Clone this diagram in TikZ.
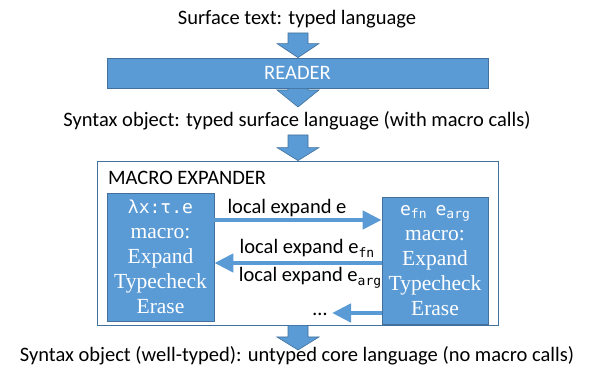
\documentclass[tikz,border=0pt]{standalone}
\usepackage{fontspec}
\setmainfont{Carlito}
\newfontfamily\serifb{Liberation Serif}
\newfontfamily\monob{DejaVu Sans Mono}
\usetikzlibrary{arrows.meta,calc}
\definecolor{blu}{HTML}{5B9BD5}
\definecolor{blud}{HTML}{41719C}
\newcommand\blockarrow[3]{%
  \filldraw[fill=blu,draw=blud,line width=0.6pt] let \p1=(#1), \p2=(#2) in
    (\x1-10pt,\y1) -- (\x1+10pt,\y1) -- (\x1+10pt,\y2+#3) -- (\x1+21pt,\y2+#3)
    -- (\x1,\y2) -- (\x1-21pt,\y2+#3) -- (\x1-10pt,\y2+#3) -- cycle;}
\newcommand\msub[1]{\raisebox{-3.5pt}{\monob\fontsize{13}{13}\selectfont #1}}
\tikzset{
  txt/.style={inner sep=0pt,anchor=base,font=\fontsize{20.5}{24}\selectfont},
  bluebar/.style={fill=blu,draw=blud,line width=0.8pt,text=white,inner sep=0pt,
    font=\fontsize{20.5}{24}\selectfont},
  bbox/.style={fill=blu,draw=blud,line width=0.8pt,text=white,inner sep=0pt,
    align=center,font=\serifb\fontsize{21.5}{25}\selectfont},
  harr/.style={draw=blu,line width=4.5pt,-{Triangle[length=19pt,width=18pt]}},
}
\begin{document}
\begin{tikzpicture}[x=1pt,y=-1pt]
\useasboundingbox (0,0) rectangle (595,371);
\node[txt] (t1) at (297,25) {Surface text: typed language};
\node[bluebar,minimum width=381,minimum height=30] (reader) at (297.5,73) {READER};
\node[txt] (t2) at (297,127) {Syntax object: typed surface language (with macro calls)};
\node[draw=blud,line width=0.8pt,minimum width=401,minimum height=164,inner sep=0pt] (mx) at (297.5,243) {};
\node[txt,anchor=base west] (mxl) at (108,185) {MACRO EXPANDER};
\node[bbox,minimum width=107,minimum height=128] (L) at (160.5,257)
  {{\monob\fontsize{18}{25}\selectfont λx:τ.e}\\macro:\\Expand\\Typecheck\\Erase};
\node[bbox,minimum width=106,minimum height=127] (R) at (435,260.5)
  {{\monob\fontsize{18}{25}\selectfont e\msub{fn}\hspace{9pt}e\msub{arg}}\\macro:\\Expand\\Typecheck\\Erase};
\node[txt] (t3) at (297,362) {Syntax object (well-typed): untyped core language (no macro calls)};
% down arrows
\coordinate (a1s) at (298,33);
\coordinate (a2e) at (298,107);
\coordinate (a3s) at (298,135);
\coordinate (a4e) at (298,350);
\blockarrow{a1s}{a1s |- reader.north}{14pt}
\blockarrow{a2e |- reader.south}{a2e}{17pt}
\blockarrow{a3s}{a3s |- mx.north}{13pt}
\blockarrow{a4e |- mx.south}{a4e}{13pt}
% horizontal arrows
\coordinate (y1) at (0,220);
\coordinate (y2) at (0,263);
\coordinate (y3) at (0,313);
\coordinate (d3) at (332,313);
\draw[harr] (L.east |- y1) -- (R.west |- y1);
\draw[harr] (R.west |- y2) -- (L.east |- y2);
\draw[harr] (R.west |- y3) -- (d3);
\node[txt] (l1) at (287,214) {local expand e};
\node[txt] (l2) at (307,254) {local expand e\msub{fn}};
\node[txt] (l3) at (310,282) {local expand e\msub{arg}};
\node[txt] (dots) at (320,316) {…};
\end{tikzpicture}
\end{document}
